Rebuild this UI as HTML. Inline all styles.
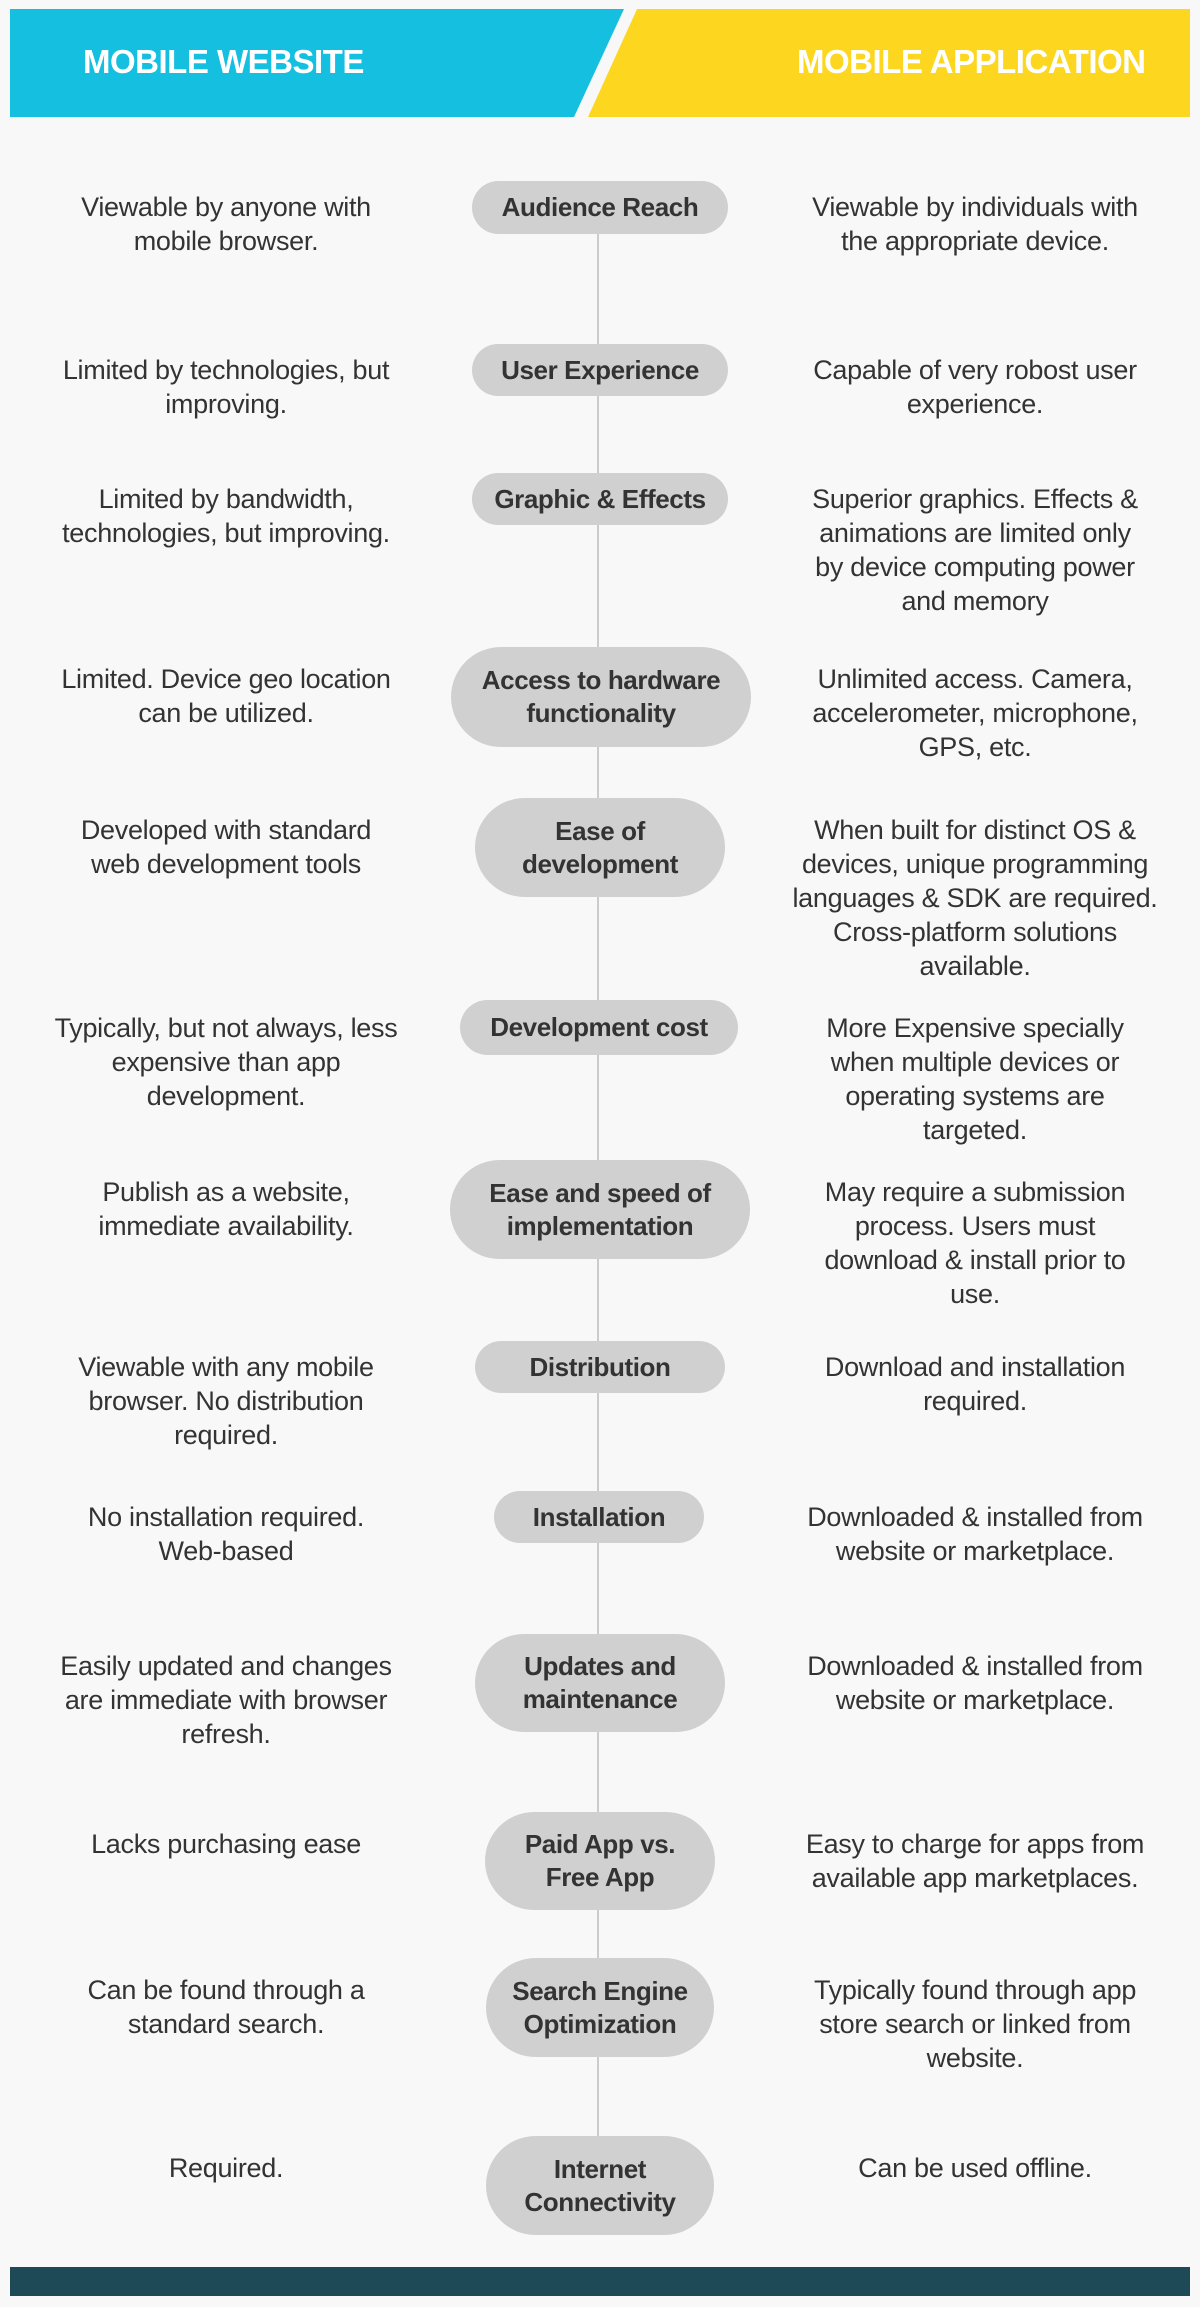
<!DOCTYPE html>
<html><head><meta charset="utf-8">
<style>
*{margin:0;padding:0;box-sizing:border-box}
body{width:1200px;height:2307px;background:#f8f8f8;position:relative;overflow:hidden;font-family:"Liberation Sans",sans-serif;color:#333}
.ht{position:absolute;top:43px;color:#fff;font-weight:bold;font-size:33px;letter-spacing:-0.5px;white-space:nowrap}
.line{position:absolute;left:597px;top:234px;width:2px;height:1902px;background:#cccccc}
.pill{position:absolute;background:#d0d0d0;border-radius:50px;font-weight:bold;font-size:26px;line-height:33px;text-align:center;display:flex;align-items:center;justify-content:center;white-space:nowrap;letter-spacing:-0.4px}
.side{position:absolute;width:440px;font-size:27px;line-height:34px;text-align:center;white-space:nowrap;letter-spacing:-0.3px}
.l{left:6px}.r{left:755px}
.foot{position:absolute;left:10px;top:2267px;width:1180px;height:29px;background:#1e4a57}
</style></head><body>
<svg style="position:absolute;left:0;top:0" width="1200" height="120">
<polygon points="10,9 624,9 574,117 10,117" fill="#14bfe0"/>
<polygon points="637,9 1190,9 1190,117 588,117" fill="#fdd71f"/>
</svg>
<div class="ht" style="left:83px">MOBILE WEBSITE</div>
<div class="ht" style="left:797px">MOBILE APPLICATION</div>
<div class="line"></div>

<div class="pill" style="left:472px;top:181px;width:256px;height:53px">Audience Reach</div>
<div class="side l" style="top:190px">Viewable by anyone with<br>mobile browser.</div>
<div class="side r" style="top:190px">Viewable by individuals with<br>the appropriate device.</div>

<div class="pill" style="left:472px;top:344px;width:256px;height:52px">User Experience</div>
<div class="side l" style="top:353px">Limited by technologies, but<br>improving.</div>
<div class="side r" style="top:353px">Capable of very robost user<br>experience.</div>

<div class="pill" style="left:472px;top:473px;width:256px;height:52px">Graphic &amp; Effects</div>
<div class="side l" style="top:482px">Limited by bandwidth,<br>technologies, but improving.</div>
<div class="side r" style="top:482px">Superior graphics. Effects &amp;<br>animations are limited only<br>by device computing power<br>and memory</div>

<div class="pill" style="left:451px;top:647px;width:300px;height:100px">Access to hardware<br>functionality</div>
<div class="side l" style="top:662px">Limited. Device geo location<br>can be utilized.</div>
<div class="side r" style="top:662px">Unlimited access. Camera,<br>accelerometer, microphone,<br>GPS, etc.</div>

<div class="pill" style="left:475px;top:798px;width:250px;height:99px">Ease of<br>development</div>
<div class="side l" style="top:813px">Developed with standard<br>web development tools</div>
<div class="side r" style="top:813px">When built for distinct OS &amp;<br>devices, unique programming<br>languages &amp; SDK are required.<br>Cross-platform solutions<br>available.</div>

<div class="pill" style="left:460px;top:1000px;width:278px;height:55px">Development cost</div>
<div class="side l" style="top:1011px">Typically, but not always, less<br>expensive than app<br>development.</div>
<div class="side r" style="top:1011px">More Expensive specially<br>when multiple devices or<br>operating systems are<br>targeted.</div>

<div class="pill" style="left:450px;top:1160px;width:300px;height:99px">Ease and speed of<br>implementation</div>
<div class="side l" style="top:1175px">Publish as a website,<br>immediate availability.</div>
<div class="side r" style="top:1175px">May require a submission<br>process. Users must<br>download &amp; install prior to<br>use.</div>

<div class="pill" style="left:475px;top:1341px;width:250px;height:52px">Distribution</div>
<div class="side l" style="top:1350px">Viewable with any mobile<br>browser. No distribution<br>required.</div>
<div class="side r" style="top:1350px">Download and installation<br>required.</div>

<div class="pill" style="left:494px;top:1491px;width:210px;height:52px">Installation</div>
<div class="side l" style="top:1500px">No installation required.<br>Web-based</div>
<div class="side r" style="top:1500px">Downloaded &amp; installed from<br>website or marketplace.</div>

<div class="pill" style="left:475px;top:1634px;width:250px;height:98px">Updates and<br>maintenance</div>
<div class="side l" style="top:1649px">Easily updated and changes<br>are immediate with browser<br>refresh.</div>
<div class="side r" style="top:1649px">Downloaded &amp; installed from<br>website or marketplace.</div>

<div class="pill" style="left:485px;top:1812px;width:230px;height:98px">Paid App vs.<br>Free App</div>
<div class="side l" style="top:1827px">Lacks purchasing ease</div>
<div class="side r" style="top:1827px">Easy to charge for apps from<br>available app marketplaces.</div>

<div class="pill" style="left:486px;top:1958px;width:228px;height:99px">Search Engine<br>Optimization</div>
<div class="side l" style="top:1973px">Can be found through a<br>standard search.</div>
<div class="side r" style="top:1973px">Typically found through app<br>store search or linked from<br>website.</div>

<div class="pill" style="left:486px;top:2136px;width:228px;height:99px">Internet<br>Connectivity</div>
<div class="side l" style="top:2151px">Required.</div>
<div class="side r" style="top:2151px">Can be used offline.</div>

<div class="foot"></div>
</body></html>
